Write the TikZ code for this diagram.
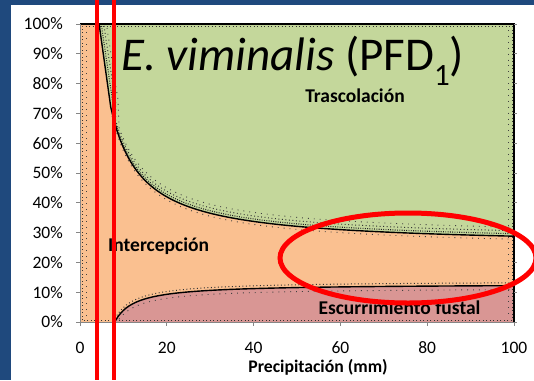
\documentclass[tikz,border=0pt]{standalone}
\usepackage{fontspec}
\setmainfont{Carlito}
\definecolor{bgblue}{RGB}{31,73,125}
\definecolor{greenf}{RGB}{196,215,155}
\definecolor{orangef}{RGB}{250,192,144}
\definecolor{pinkf}{RGB}{217,150,148}
\definecolor{axisgray}{RGB}{134,134,134}
\tikzset{
  curveline/.style={black, line width=1.4pt},
  dotsa/.style={black!85, line width=1.1pt, dash pattern=on 0.9pt off 1.4pt},
  dotsb/.style={black!80, line width=1pt, dash pattern=on 0.9pt off 2.6pt},
  dotsc/.style={black!75, line width=0.9pt, dash pattern=on 0.9pt off 5pt},
  axisline/.style={axisgray, line width=1pt},
  ticklab/.style={font=\fontsize{17.5}{20}\selectfont, inner sep=0pt},
  arealab/.style={font=\fontsize{19.5}{22}\selectfont\bfseries, inner sep=0pt},
  redline/.style={red, line width=4pt},
}
\begin{document}
\begin{tikzpicture}[x=1pt,y=-1pt]
\useasboundingbox (0,0) rectangle (534,380);
\fill[bgblue] (0,0) rectangle (534,380);
\fill[white] (11,5) rectangle (534,380);
% areas
\fill[orangef] (80,24) rectangle (514,322);
\fill[greenf] (99.1,24) -- (110.8,107.5) -- plot[domain=7.1:100,samples=140] ({80+4.34*\x},{322-298*(0.255+3.3/\x)}) -- (514,24) -- cycle;
\fill[pinkf] (114.7,322) -- plot[domain=8:100,samples=140] ({80+4.34*\x},{322-298*0.128*(\x-8)/(\x-3.46)}) -- (514,322) -- cycle;
% stipple near the upper boundary (green side)
\draw[dotsa] (101.5,26) -- (113.0,104) -- plot[domain=7.6:99,samples=140] ({80+4.34*\x},{322-298*(0.255+3.3/\x)-2.5});
\draw[dotsb] (104,26) -- (115.5,102) -- plot[domain=8.2:99,samples=140] ({80+4.34*\x},{322-298*(0.255+3.3/\x)-5.5});
\draw[dotsc] (107,28) -- (118,100) -- plot[domain=9:99,samples=140] ({80+4.34*\x},{322-298*(0.255+3.3/\x)-9});
\draw[dotsc] plot[domain=7.4:99,samples=140] ({80+4.34*\x},{322-298*(0.255+3.3/\x)+3});
% stipple near the lower boundary
\draw[dotsb] plot[domain=8.5:99,samples=140] ({80+4.34*\x},{322-298*0.128*(\x-8)/(\x-3.46)-2.8});
\draw[dotsc] plot[domain=9:99,samples=140] ({80+4.34*\x},{322-298*0.128*(\x-8)/(\x-3.46)+4});
% stipple along the frame
\draw[dotsb] (82,320) -- (82,26) -- (512,26) -- (512,320) -- cycle;
\draw[dotsc] (86,316) -- (86,30) (508,30) -- (508,316);
% boundary lines
\draw[curveline] (99.1,24) -- (110.8,107.5) -- plot[domain=7.1:100,samples=140] ({80+4.34*\x},{322-298*(0.255+3.3/\x)});
\draw[curveline] plot[domain=8:100,samples=140] ({80+4.34*\x},{322-298*0.128*(\x-8)/(\x-3.46)});
\draw[black, line width=1.2pt] (80,24) -- (514,24) -- (514,322);
% axes
\draw[axisline] (80,24) -- (80,322) -- (514,322);
\foreach \k in {0,...,10} {
  \draw[axisline] (76,{322-29.8*\k}) -- (80,{322-29.8*\k});
  \draw[axisline] (514,{322-29.8*\k}) -- (517,{322-29.8*\k});
  \pgfmathtruncatemacro{\pc}{10*\k}
  \node[ticklab, anchor=east] (yl\k) at (63,{322-29.8*\k}) {\pc\%};
}
\foreach \k in {0,...,5} {
  \draw[axisline] ({80+86.8*\k},322) -- ({80+86.8*\k},326);
  \pgfmathtruncatemacro{\pv}{20*\k}
  \node[ticklab] (xl\k) at ({80+86.8*\k},348) {\pv};
}
\node[font=\fontsize{17.7}{20}\selectfont\bfseries, inner sep=0pt] (xtitle) at (318,367) {Precipitación (mm)};
% area labels
\node[arealab] (tras) at (355,96) {Trascolación};
\node[arealab, anchor=base west] (inter) at (108,251) {Intercepción};
\node[arealab] (escu) at (399.5,308) {Escurrimiento fustal};
% title
\node[font=\fontsize{47}{50}\selectfont, inner sep=0pt, anchor=base west] (title) at (121,70)
  {\itshape E. viminalis\upshape{} (PFD\raisebox{-15pt}{\fontsize{31}{34}\selectfont 1})};
% red marks
\draw[redline] (97.3,0) -- (97.3,380);
\draw[redline] (113.8,0) -- (113.8,380);
\draw[red, line width=5pt] (408,258) ellipse [x radius=128, y radius=45];
\end{tikzpicture}
\end{document}
